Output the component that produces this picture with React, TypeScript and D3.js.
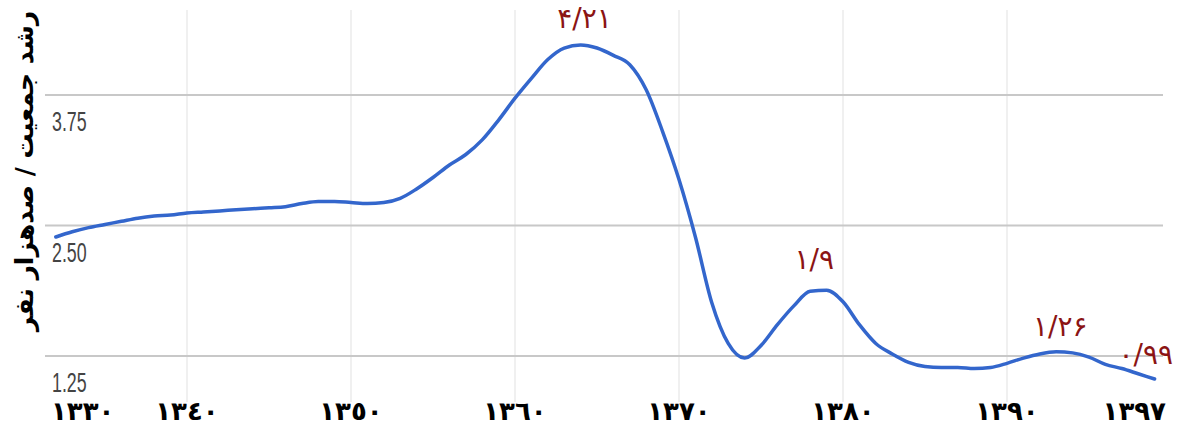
import React from "react";
import * as d3 from "d3";

// ---- data ----
const years: number[] = [
  1332, 1333, 1334, 1335, 1336, 1337, 1338, 1339, 1340, 1341, 1342, 1343, 1344, 1345,
  1346, 1347, 1348, 1349, 1350, 1351, 1352, 1353, 1354, 1355, 1356, 1357, 1358, 1359,
  1360, 1361, 1362, 1363, 1364, 1365, 1366, 1367, 1368, 1369, 1370, 1371, 1372, 1373,
  1374, 1375, 1376, 1377, 1378, 1379, 1380, 1381, 1382, 1383, 1384, 1385, 1386, 1387,
  1388, 1389, 1390, 1391, 1392, 1393, 1394, 1395, 1396, 1397, 1398, 1399,
];
const growth: number[] = [
  2.39, 2.44, 2.48, 2.51, 2.54, 2.57, 2.59, 2.6, 2.62, 2.63, 2.64, 2.65, 2.66, 2.67,
  2.68, 2.71, 2.73, 2.73, 2.72, 2.71, 2.72, 2.76, 2.85, 2.96, 3.08, 3.18, 3.32, 3.51,
  3.72, 3.91, 4.09, 4.2, 4.23, 4.2, 4.13, 4.04, 3.8, 3.4, 2.94, 2.39, 1.76, 1.37,
  1.23, 1.35, 1.55, 1.73, 1.87, 1.88, 1.77, 1.55, 1.37, 1.27, 1.19, 1.15, 1.14, 1.14,
  1.13, 1.14, 1.18, 1.23, 1.27, 1.29, 1.28, 1.24, 1.17, 1.13, 1.08, 1.03,
];
const yTicks: number[] = [1.25, 2.5, 3.75];
const xTickYears: number[] = [1330, 1340, 1350, 1360, 1370, 1380, 1390, 1397];
const xTickLabels: string[] = ["١٣٣٠", "١٣٤٠", "١٣٥٠", "١٣٦٠", "١٣٧٠", "١٣٨٠", "١٣٩٠", "١٣٩٧"];
const gridYears: number[] = [1340, 1350, 1360, 1370, 1380, 1390];
const noteYears: number[] = [1364, 1378, 1393, 1399];
const noteValues: number[] = [4.21, 1.9, 1.26, 0.99];
const noteLabels: string[] = ["۴/۲۱", "۱/۹", "۱/۲۶", "۰/۹۹"];
const yTitle = "رشد جمعیت / صدهزار نفر";

export default function App() {
  const W = 1179;
  const H = 426;
  const left = 45;
  const right = 1163;
  const top = 10;
  const bottom = 402;

  const x = d3.scaleLinear().domain([1340, 1390]).range([187, 1007]);
  const y = d3.scaleLinear().domain([1.25, 3.75]).range([356, 95]);

  const pts = years.map((yr, i) => [x(yr), y(growth[i])] as [number, number]);
  const line = d3.line().curve(d3.curveMonotoneX)(pts) || "";

  const persian = "'DejaVu Sans', 'Noto Sans', sans-serif";

  return (
    <svg
      width={W}
      height={H}
      style={{ position: "absolute", left: 0, top: 0, background: "#fff" }}
    >
      {/* vertical grid */}
      {gridYears.map((g) => (
        <line key={"v" + g} x1={x(g)} x2={x(g)} y1={top} y2={bottom} stroke="#f0f0f0" strokeWidth={2} />
      ))}
      {/* horizontal grid */}
      {yTicks.map((t) => (
        <line key={"h" + t} x1={left} x2={right} y1={y(t)} y2={y(t)} stroke="#c8c8c8" strokeWidth={2} />
      ))}
      {/* y tick labels */}
      {yTicks.map((t) => (
        <text
          key={"yt" + t}
          transform={`translate(${52},${y(t) + 36}) scale(0.66,1)`}
          fontFamily="'Liberation Sans', Arial, sans-serif"
          fontSize={27}
          fill="#444"
        >
          {d3.format(".2f")(t)}
        </text>
      ))}
      {/* data line */}
      <path d={line} fill="none" stroke="#3366cc" strokeWidth={3.5} strokeLinejoin="round" strokeLinecap="round" />
      {/* annotations */}
      {noteYears.map((yr, i) => {
        const last = i === noteYears.length - 1;
        return (
          <text
            key={"n" + i}
            x={last ? W - 6 : x(yr) + 4}
            y={y(noteValues[i]) - 19}
            textAnchor={last ? "end" : "middle"}
            fontFamily={persian}
            fontSize={28}
            fill="#8b1414"
          >
            {noteLabels[i]}
          </text>
        );
      })}
      {/* x tick labels */}
      {xTickYears.map((yr, i) => {
        const first = i === 0;
        const last = i === xTickYears.length - 1;
        const px = first ? left + 6 : last ? right + 3 : x(yr);
        return (
          <text
            key={"xt" + yr}
            x={px}
            y={420}
            textAnchor={first ? "start" : last ? "end" : "middle"}
            fontFamily={persian}
            fontWeight="bold"
            fontSize={26}
            fill="#000"
          >
            {xTickLabels[i]}
          </text>
        );
      })}
      {/* y axis title */}
      <text
        transform={`translate(${33},${171}) rotate(-90)`}
        textAnchor="middle"
        fontFamily={persian}
        fontWeight="bold"
        fontSize={25}
        fill="#000"
        direction="rtl"
      >
        {yTitle}
      </text>
    </svg>
  );
}
